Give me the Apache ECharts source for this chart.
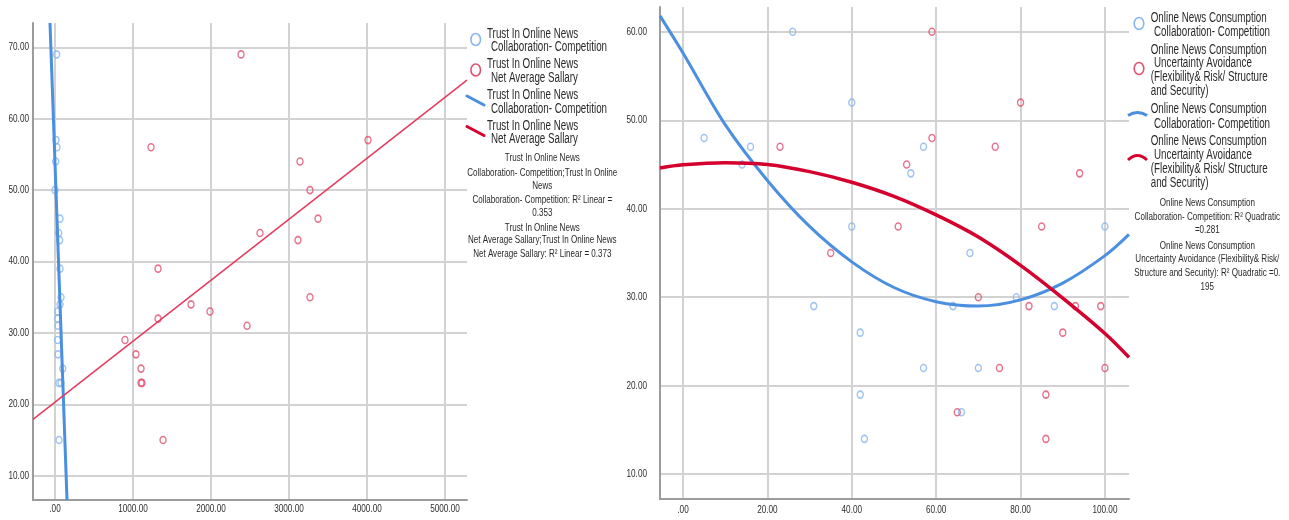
<!DOCTYPE html>
<html>
<head>
<meta charset="utf-8">
<script src="https://cdn.jsdelivr.net/npm/echarts@6/dist/echarts.min.js"></script>
<style>
html,body{margin:0;padding:0;background:#fff;}
#chart{width:1289px;height:520px;}
</style>
</head>
<body>
<div id="chart"></div>
<script>
// ---------- DATA ----------
// Left chart: Trust In Online News
const leftCollab = [[21,69],[13,57],[26,56],[9,54],[0,50],[64,46],[47,44],[60,43],[64,39],[77,35],[64,34],[35,33],[35,32],[38,31],[35,29],[38,27],[99,25],[51,23],[77,23],[51,15]];
const leftSalary = [[2385,69],[1231,56],[3141,54],[3269,50],[3372,46],[2628,44],[3115,43],[4013,57],[1321,39],[3269,35],[1744,34],[1987,33],[2462,31],[1321,32],[897,29],[1038,27],[1103,25],[1103,23],[1115,23],[1385,15]];
const leftCollabFit = [[-64,73.4],[154,6.6]];
const leftSalaryFit = [[-282,17.9],[5282,65.4]];
const leftXTicks = [0,1000,2000,3000,4000,5000];
const leftYTicks = [10,20,30,40,50,60,70];

// Right chart: Online News Consumption
const rightCollab = [[5,48],[16,47],[14,45],[26,60],[40,52],[40,38],[54,44],[57,47],[68,35],[100,38],[31,29],[42,26],[57,22],[42,19],[43,14],[64,29],[66,17],[70,22],[79,30],[88,29]];
const rightUncert = [[59,60],[80,52],[59,48],[23,47],[74,47],[53,45],[94,44],[51,38],[85,38],[35,35],[70,30],[82,29],[93,29],[99,29],[90,26],[75,22],[100,22],[86,19],[65,17],[86,14]];
const rightCollabFit = [[-5.45,61.8],[0,57.6],[10,49.5],[20,43.2],[30,38.0],[40,34.0],[50,31.1],[60,29.5],[70,29.0],[80,29.7],[90,31.6],[100,34.7],[105.7,37.1]];
const rightUncertFit = [[-5.45,44.6],[0,44.96],[10,45.2],[20,45.0],[30,44.2],[40,43.0],[50,41.4],[60,39.3],[70,36.8],[80,33.6],[90,29.9],[100,25.9],[105.7,23.2]];
const rightXTicks = [0,20,40,60,80,100];
const rightYTicks = [10,20,30,40,50,60];

// Legend / annotation texts
const leftLegendLabels = [
  ["Trust In Online News","Collaboration- Competition"],
  ["Trust In Online News","Net Average Sallary"],
  ["Trust In Online News","Collaboration- Competition"],
  ["Trust In Online News","Net Average Sallary"]
];
const leftNote = ["Trust In Online News","Collaboration- Competition;Trust In Online","News","Collaboration- Competition: R\u00B2 Linear =","0.353","Trust In Online News","Net Average Sallary;Trust In Online News","Net Average Sallary: R\u00B2 Linear = 0.373"];
const rightLegendLabels = [
  ["Online News Consumption","Collaboration- Competition"],
  ["Online News Consumption","Uncertainty Avoidance","(Flexibility& Risk/ Structure","and Security)"],
  ["Online News Consumption","Collaboration- Competition"],
  ["Online News Consumption","Uncertainty Avoidance","(Flexibility& Risk/ Structure","and Security)"]
];
const rightNote = ["Online News Consumption","Collaboration- Competition: R\u00B2 Quadratic","=0.281","Online News Consumption","Uncertainty Avoidance (Flexibility& Risk/","Structure and Security): R\u00B2 Quadratic =0.","195"];

// ---------- STYLE ----------
const BLUE_PT = '#86b5ef', RED_PT = '#e0506f';
const BLUE_LN = '#4a8fe0', RED_LN_L = '#e43a5e', RED_LN_R = '#d4002e';
const TXT_FONT = "'Liberation Sans',Arial,sans-serif";
const fmt = v => (v === 0 ? '.00' : v.toFixed(2));

function valueAxis(gridIndex, min, max, ticks) {
  return {
    type: 'value', gridIndex, min, max,
    axisLine: { show: true, onZero: false, lineStyle: { color: '#9c9c9c', width: 2 } },
    axisTick: { show: false, customValues: ticks },
    axisLabel: { show: false },
    splitLine: { show: true, lineStyle: { color: '#d2d2d2', width: 2 } }
  };
}

function scatter(data, xi, color) {
  return { type: 'scatter', xAxisIndex: xi, yAxisIndex: xi, data, symbol: 'circle', symbolSize: [6, 7],
    itemStyle: { color: 'rgba(0,0,0,0)', borderColor: color, borderWidth: 1.5 }, silent: true, z: 3 };
}
function fitLine(data, xi, color, width, smooth) {
  return { type: 'line', xAxisIndex: xi, yAxisIndex: xi, data, showSymbol: false, symbol: 'none', smooth: smooth,
    lineStyle: { color, width }, silent: true, clip: true, z: 4 };
}

// graphic helpers
const graphics = [];
function txt(x, y, s, size, align, sx, color) {
  graphics.push({ type: 'text', x, y, scaleX: sx || 0.7, silent: true,
    style: { text: s, x: 0, y: 0, font: size + 'px ' + TXT_FONT, fill: color || '#2a2a2a', textAlign: align, textVerticalAlign: 'middle' } });
}
function ell(cx, cy, color) {
  graphics.push({ type: 'ellipse', silent: true, shape: { cx, cy, rx: 4.8, ry: 6 },
    style: { fill: 'none', stroke: color, lineWidth: 1.6 } });
}
function seg(x1, y1, x2, y2, color, w) {
  graphics.push({ type: 'line', silent: true, shape: { x1, y1, x2, y2 }, style: { stroke: color, lineWidth: w, lineCap: 'round' } });
}
function arc(x1, y, x2, cpy, color) {
  graphics.push({ type: 'bezierCurve', silent: true, shape: { x1, y1: y, x2, y2: y, cpx1: (x1 + x2) / 2, cpy1: cpy },
    style: { stroke: color, lineWidth: 3, fill: 'none' } });
}

// Left legend
const leftLegPos = [[[487,34],[491,47.3]],[[487,64.3],[491,78.3]],[[487,95.3],[491,108.7]],[[487,126],[491,139.3]]];
leftLegendLabels.forEach((lines, i) => lines.forEach((s, j) => txt(leftLegPos[i][j][0], leftLegPos[i][j][1], s, 14, 'left')));
ell(475.7, 39.5, BLUE_PT);
ell(475.7, 70, RED_PT);
seg(467, 96, 484, 105, BLUE_LN, 3);
seg(467, 126.5, 484, 135.5, RED_LN_R, 3);
const leftNoteY = [158,172.5,185.7,200,212.7,227.7,240.3,254];
leftNote.forEach((s, i) => txt(542.3, leftNoteY[i], s, 11.5, 'center'));

// Right legend
const rightLegPos = [[[1150.7,18.3],[1154,32.3]],[[1150.7,50],[1154,62.7],[1150.7,76.7],[1150.7,90.7]],[[1150.7,109.3],[1154,124]],[[1150.7,140.7],[1154,155.3],[1150.7,169.3],[1150.7,183.3]]];
rightLegendLabels.forEach((lines, i) => lines.forEach((s, j) => txt(rightLegPos[i][j][0], rightLegPos[i][j][1], s, 14, 'left')));
ell(1139, 23.5, BLUE_PT);
ell(1139, 68.5, RED_PT);
arc(1128, 115.5, 1147, 109.5, BLUE_LN);
arc(1128, 160, 1147, 151, RED_LN_R);
const rightNoteY = [203.3,217.3,230,245.7,259.3,273.3,287.3];
rightNote.forEach((s, i) => txt(1207.3, rightNoteY[i], s, 11.5, 'center'));

const option = {
  animation: false,
  backgroundColor: '#ffffff',
  grid: [
    { left: 33, top: 23, width: 434, height: 477, containLabel: false },
    { left: 660, top: 7, width: 469, height: 492, containLabel: false }
  ],
  xAxis: [
    valueAxis(0, -282, 5282, leftXTicks),
    valueAxis(1, -5.45, 105.7, rightXTicks)
  ],
  yAxis: [
    valueAxis(0, 6.6, 73.4, leftYTicks),
    valueAxis(1, 7.2, 62.8, rightYTicks)
  ],
  series: [
    scatter(leftCollab, 0, BLUE_PT),
    scatter(leftSalary, 0, RED_PT),
    fitLine(leftCollabFit, 0, BLUE_LN, 3, false),
    fitLine(leftSalaryFit, 0, RED_LN_L, 1.5, false),
    scatter(rightCollab, 1, BLUE_PT),
    scatter(rightUncert, 1, RED_PT),
    fitLine(rightCollabFit, 1, BLUE_LN, 3, 0.35),
    fitLine(rightUncertFit, 1, RED_LN_R, 3.5, 0.35)
  ]
};

const chart = echarts.init(document.getElementById('chart'), null, { renderer: 'canvas' });
chart.setOption(option);

// Axis tick labels placed through the axes' own scales (condensed like the reference)
const LBL = 10.5, LSX = 0.78, LCOL = '#2e2e2e';
leftXTicks.forEach(v => txt(chart.convertToPixel({ xAxisIndex: 0 }, v), 509, fmt(v), LBL, 'center', LSX, LCOL));
leftYTicks.forEach(v => txt(29, chart.convertToPixel({ yAxisIndex: 0 }, v), fmt(v), LBL, 'right', LSX, LCOL));
rightXTicks.forEach(v => txt(chart.convertToPixel({ xAxisIndex: 1 }, v), 510, fmt(v), LBL, 'center', LSX, LCOL));
rightYTicks.forEach(v => txt(647, chart.convertToPixel({ yAxisIndex: 1 }, v), fmt(v), LBL, 'right', LSX, LCOL));

chart.setOption({ graphic: graphics });
</script>
</body>
</html>
